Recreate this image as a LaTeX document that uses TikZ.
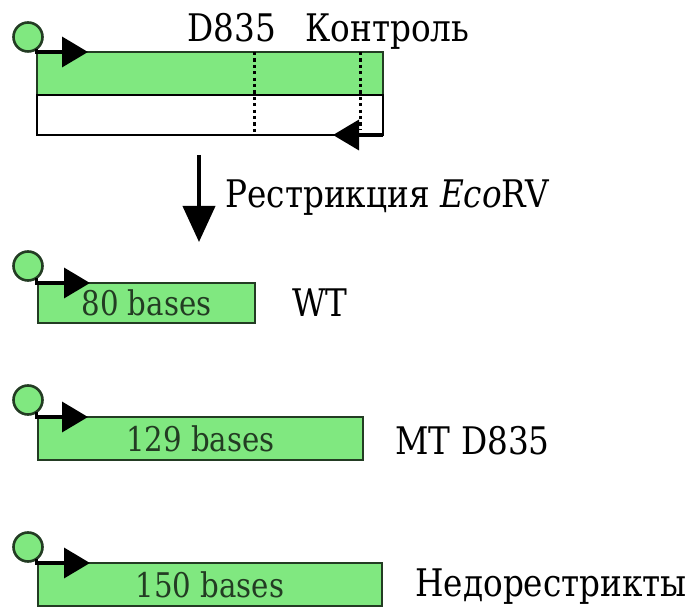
\documentclass[tikz,border=0pt]{standalone}
\usepackage{fontspec}
\setmainfont{DejaVu Serif}[FakeStretch=0.86]
\usetikzlibrary{arrows.meta,positioning}
\definecolor{BandGreen}{RGB}{128,232,128}
\definecolor{BandEdge}{RGB}{35,60,35}
\tikzset{
  bandbox/.style={draw=BandEdge,fill=BandGreen,line width=1.3pt,
    anchor=north west,inner sep=0pt,outer sep=0pt,text=BandEdge,
    font=\fontsize{17}{19}\selectfont},
  strandbox/.style={draw=black,line width=1.3pt,anchor=north west,
    inner sep=0pt,outer sep=0pt},
  primerdot/.style={circle,draw=BandEdge,fill=BandGreen,line width=1.3pt,
    minimum size=14.5pt,inner sep=0pt,outer sep=0pt},
  primerarrow/.style={-{Triangle[length=13pt,width=15pt]},line width=1.8pt},
  cutmark/.style={line width=1.5pt,dash pattern=on 1.6pt off 1.6pt},
  tagtext/.style={anchor=base west,inner sep=0pt,
    font=\fontsize{19}{22}\selectfont},
}

\begin{document}
\begin{tikzpicture}[x=0.5pt,y=-0.5pt]
    \useasboundingbox (0,0) rectangle (691,608);
    % control duplex
    \node[bandbox,minimum width=173pt,minimum height=21.5pt] (ctl-fwd) at (37,52) {};
    \node[strandbox,fill=white,minimum width=173pt,minimum height=20pt] (ctl-rev) at (37,95) {};
    \coordinate (cut-d835) at (254,52);
    \coordinate (cut-ctl) at (360,52);
    \draw[cutmark] (cut-d835) -- (cut-d835 |- ctl-rev.south);
    \draw[cutmark] (cut-ctl) -- ++(0,78);
    \node[primerdot] (ctl-dot) at (28,37) {};
    \coordinate (ctl-tip) at (88,52);
    \draw[primerarrow] (ctl-dot.-55) |- (ctl-tip);
    \coordinate (ctl-rtip) at (333,135);
    \draw[primerarrow] (ctl-rev.south east) -- (ctl-rtip |- ctl-rev.south east);
    \node[tagtext] (tag-d835) at (187,42) {D835};
    \node[tagtext] (tag-ctl) at (305,42) {Контроль};
    % digestion step
    \coordinate (digest-top) at (199,155);
    \coordinate (digest-end) at (199,242);
    \draw[-{Triangle[length=18pt,width=16pt]},line width=2pt] (digest-top) -- (digest-end);
    \node[tagtext] (digest) at (225,208) {Рестрикция \textit{Eco}RV};
    % wild type
    \node[bandbox,minimum width=108.5pt,minimum height=20pt] (wt-band) at (38,283) {80 bases};
    \node[primerdot] (wt-dot) at (28,266) {};
    \coordinate (wt-tip) at (90,283);
    \draw[primerarrow] (wt-dot.-55) |- (wt-tip);
    \node[tagtext] (wt-tag) at (292,317) {WT};
    % mutant
    \node[bandbox,minimum width=162.5pt,minimum height=21.5pt] (mt-band) at (38,417) {129 bases};
    \node[primerdot] (mt-dot) at (28,400) {};
    \coordinate (mt-tip) at (88,417);
    \draw[primerarrow] (mt-dot.-55) |- (mt-tip);
    \node[tagtext] (mt-tag) at (395,455) {MT D835};
    % undigested
    \node[bandbox,minimum width=172pt,minimum height=21.5pt] (und-band) at (38,563) {150 bases};
    \node[primerdot] (und-dot) at (28,547) {};
    \coordinate (und-tip) at (90,563);
    \draw[primerarrow] (und-dot.-55) |- (und-tip);
    \node[tagtext] (und-tag) at (415,597) {Недорестрикты};
\end{tikzpicture}
\end{document}
